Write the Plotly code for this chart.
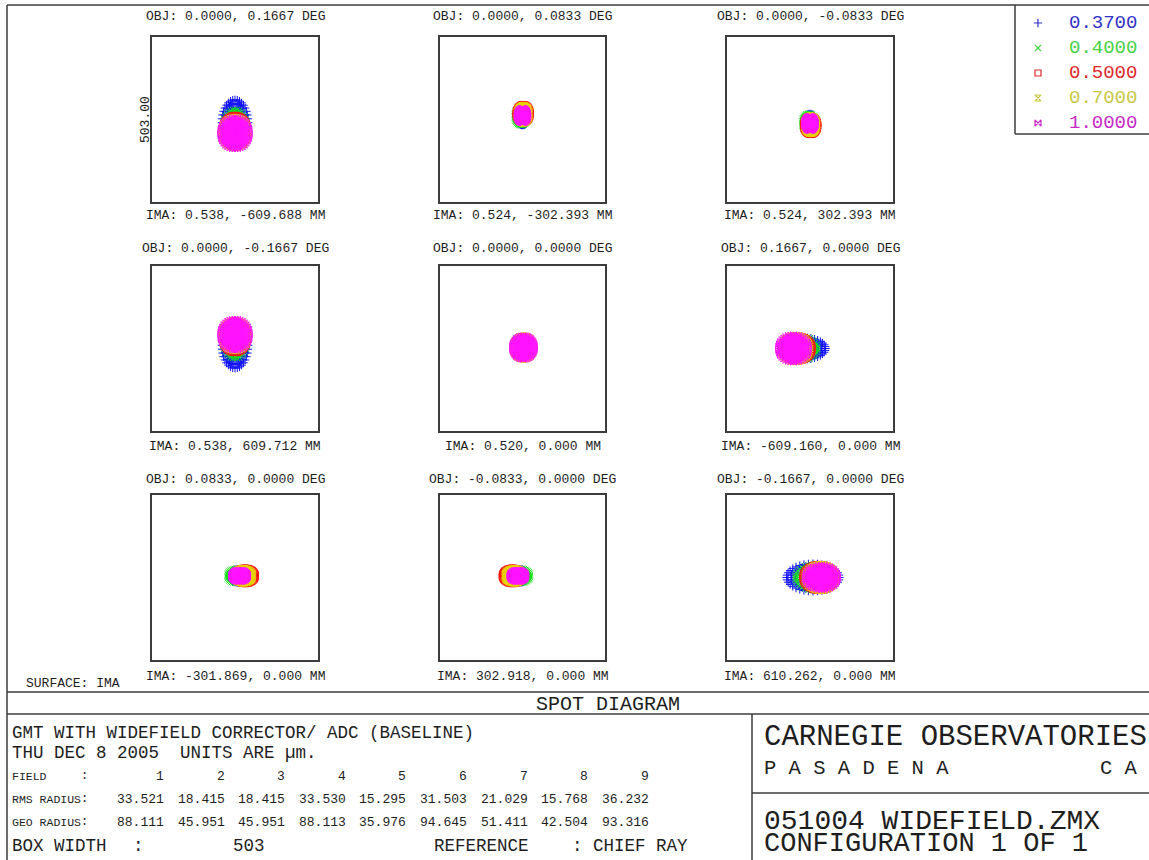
import numpy as np
import plotly.graph_objects as go

W, H = 1149, 860

# ---------------- data ----------------
wavelengths = ["0.3700", "0.4000", "0.5000", "0.7000", "1.0000"]
spot_colors = ["#1414ff", "#14e614", "#ff1414", "#e6d200", "#ff14ff"]
legend_colors = ["#3232c8", "#46d246", "#e02828", "#c8c846", "#c828c8"]
spot_symbols = ["cross-thin-open", "x-thin-open", "square-open", "hourglass-open", "bowtie-open"]

obj_labels = [
    "OBJ: 0.0000, 0.1667 DEG", "OBJ: 0.0000, 0.0833 DEG", "OBJ: 0.0000, -0.0833 DEG",
    "OBJ: 0.0000, -0.1667 DEG", "OBJ: 0.0000, 0.0000 DEG", "OBJ: 0.1667, 0.0000 DEG",
    "OBJ: 0.0833, 0.0000 DEG", "OBJ: -0.0833, 0.0000 DEG", "OBJ: -0.1667, 0.0000 DEG",
]
ima_labels = [
    "IMA: 0.538, -609.688 MM", "IMA: 0.524, -302.393 MM", "IMA: 0.524, 302.393 MM",
    "IMA: 0.538, 609.712 MM", "IMA: 0.520, 0.000 MM", "IMA: -609.160, 0.000 MM",
    "IMA: -301.869, 0.000 MM", "IMA: 302.918, 0.000 MM", "IMA: 610.262, 0.000 MM",
]
field_numbers = ["1", "2", "3", "4", "5", "6", "7", "8", "9"]
rms_radius = ["33.521", "18.415", "18.415", "33.530", "15.295", "31.503", "21.029", "15.768", "36.232"]
geo_radius = ["88.111", "45.951", "45.951", "88.113", "35.976", "94.645", "51.411", "42.504", "93.316"]
box_width = 503.0

# spot-centroid offsets and semi-extents (micrometres), per field, per wavelength
spot_cx = [
    [0, 0, 0, 0, 0],
    [0, -4, 2, 2, 0],
    [0, -4, 2, 2, 0],
    [0, 0, 0, 0, 0],
    [3, 3, 3, 3, 3],
    [-20, -25, -38, -45, -50],
    [8, 5, 30, 25, 14],
    [-8, -5, -30, -25, -14],
    [9, 15, 28, 32, 35],
]
spot_cy = [
    [-10, -25, -35, -40, -42],
    [5, 10, 18, 16, 12],
    [-5, -10, -18, -16, -12],
    [10, 25, 35, 40, 42],
    [3, 3, 3, 3, 3],
    [0, 0, 0, 0, 0],
    [5, 5, 5, 5, 5],
    [5, 5, 5, 5, 5],
    [0, 0, 0, 0, 0],
]
spot_rx = [
    [40, 38, 40, 42, 43],
    [18, 20, 22, 20, 16],
    [18, 20, 22, 20, 16],
    [40, 38, 40, 42, 43],
    [30, 30, 31, 32, 33],
    [67, 48, 45, 45, 45],
    [24, 28, 32, 30, 24],
    [24, 28, 32, 30, 24],
    [80, 60, 50, 48, 48],
]
spot_ry = [
    [70, 55, 48, 46, 48],
    [22, 28, 28, 27, 22],
    [22, 28, 28, 27, 22],
    [70, 55, 48, 46, 48],
    [33, 33, 34, 35, 36],
    [33, 36, 38, 40, 42],
    [20, 22, 24, 22, 18],
    [20, 22, 24, 22, 18],
    [42, 40, 40, 39, 38],
]

# hexapolar pupil sampling (ray grid), 6 rings
pupil_rings = 6
pup_x, pup_y = [0.0], [0.0]
for k in range(1, pupil_rings + 1):
    ang = 2 * np.pi * np.arange(6 * k) / (6 * k)
    pup_x.extend(list(k / pupil_rings * np.cos(ang)))
    pup_y.extend(list(k / pupil_rings * np.sin(ang)))
pup_x = np.array(pup_x)
pup_y = np.array(pup_y)

# ---------------- layout geometry (pixels) ----------------
col_px = [(152, 318), (440, 605), (727, 893)]
row_px = [(37, 202), (266, 431), (495, 660)]
obj_y = [17, 249, 479]
ima_y = [215, 446, 676]


def fx(p):
    return p / W


def fy(p):
    return 1 - p / H


FONT = "Liberation Mono, DejaVu Sans Mono, monospace"
INK = "#1e1e1e"
LINE = "#3c3c3c"

fig = go.Figure()
layout = dict(
    width=W, height=H, autosize=False,
    margin=dict(l=0, r=0, t=0, b=0),
    paper_bgcolor="white", plot_bgcolor="white",
    showlegend=False,
)
annotations = []
shapes = []
half = box_width / 2

for i in range(9):
    r, c = divmod(i, 3)
    n = i + 1
    xa = "xaxis" if n == 1 else f"xaxis{n}"
    ya = "yaxis" if n == 1 else f"yaxis{n}"
    xr = "x" if n == 1 else f"x{n}"
    yr = "y" if n == 1 else f"y{n}"
    x0, x1 = col_px[c]
    y0, y1 = row_px[r]
    axcommon = dict(range=[-half, half], showgrid=False, zeroline=False, showticklabels=False,
                    ticks="", showline=True, mirror=True, linecolor=LINE, linewidth=1.5,
                    fixedrange=True)
    layout[xa] = dict(domain=[fx(x0), fx(x1)], anchor=yr, **axcommon)
    layout[ya] = dict(domain=[fy(y1), fy(y0)], anchor=xr, **axcommon)
    for w in range(5):
        xs = spot_cx[i][w] + spot_rx[i][w] * pup_x
        ys = spot_cy[i][w] + spot_ry[i][w] * pup_y
        fig.add_trace(go.Scatter(
            x=xs, y=ys, mode="markers", xaxis=xr, yaxis=yr, hoverinfo="skip",
            marker=dict(symbol=spot_symbols[w], size=6, color=spot_colors[w],
                        line=dict(color=spot_colors[w], width=1)),
        ))
    cxp = (x0 + x1) / 2
    annotations.append(dict(text=obj_labels[i], x=fx(cxp), y=fy(obj_y[r]), xref="paper", yref="paper",
                            showarrow=False, xanchor="center", yanchor="middle",
                            font=dict(family=FONT, size=13, color=INK)))
    annotations.append(dict(text=ima_labels[i], x=fx(cxp), y=fy(ima_y[r]), xref="paper", yref="paper",
                            showarrow=False, xanchor="center", yanchor="middle",
                            font=dict(family=FONT, size=13, color=INK)))

# box width label on first box
annotations.append(dict(text=f"{box_width:.2f}", x=fx(145), y=fy(120), xref="paper", yref="paper",
                        showarrow=False, textangle=-90, xanchor="center", yanchor="middle",
                        font=dict(family=FONT, size=13, color=INK)))
annotations.append(dict(text="SURFACE: IMA", x=fx(24), y=fy(683), xref="paper", yref="paper",
                        showarrow=False, xanchor="left", yanchor="middle",
                        font=dict(family=FONT, size=13, color=INK)))

# legend (symbols on an overlay axis, texts as annotations)
layout["xaxis10"] = dict(domain=[fx(1030), fx(1046)], range=[-1, 1], visible=False, fixedrange=True, anchor="y10")
layout["yaxis10"] = dict(domain=[fy(135.5), fy(10.5)], range=[4.5, -0.5], visible=False, fixedrange=True, anchor="x10")
for w in range(5):
    fig.add_trace(go.Scatter(
        x=[0], y=[w], mode="markers", xaxis="x10", yaxis="y10", hoverinfo="skip",
        marker=dict(symbol=spot_symbols[w], size=6, color=legend_colors[w],
                    line=dict(color=legend_colors[w], width=1.2)),
    ))
    annotations.append(dict(text=wavelengths[w], x=fx(1067), y=fy(23 + 25 * w), xref="paper", yref="paper",
                            showarrow=False, xanchor="left", yanchor="middle",
                            font=dict(family=FONT, size=19, color=legend_colors[w])))

# frame lines
def hline(y, xa, xb):
    shapes.append(dict(type="line", xref="paper", yref="paper", x0=fx(xa), x1=fx(xb), y0=fy(y), y1=fy(y),
                       line=dict(color=LINE, width=1.5)))


def vline(x, ya, yb):
    shapes.append(dict(type="line", xref="paper", yref="paper", x0=fx(x), x1=fx(x), y0=fy(ya), y1=fy(yb),
                       line=dict(color=LINE, width=1.5)))


hline(5, 7, 1149)
vline(7, 5, 860)
vline(1015, 5, 134)
hline(134, 1015, 1149)
hline(692, 7, 1149)
hline(714, 7, 1149)
vline(752, 714, 860)
hline(793, 752, 1149)

# bottom block texts
def txt(s, x, y, size, anchor="left", family=FONT):
    annotations.append(dict(text=s, x=fx(x), y=fy(y), xref="paper", yref="paper", showarrow=False,
                            xanchor=anchor, yanchor="middle", font=dict(family=family, size=size, color=INK)))


txt("SPOT DIAGRAM", 608, 704, 20, "center")
txt("GMT WITH WIDEFIELD CORRECTOR/ ADC (BASELINE)", 10, 733, 17.5)
txt("THU DEC 8 2005  UNITS ARE µm.", 10, 753, 17.5)
txt("FIELD", 10, 776, 11.5)
txt("RMS RADIUS", 10, 799, 11.5)
txt("GEO RADIUS", 10, 822, 11.5)
for yy in (776, 799, 822):
    txt(":", 84, yy, 12, "center")
txt("BOX WIDTH", 10, 846, 17.5)
txt(":", 138, 846, 17.5, "center")
txt(f"{box_width:.0f}", 249, 846, 17.5, "center")
txt("REFERENCE", 432, 846, 17.5)
txt(": CHIEF RAY", 570, 846, 17.5)
col_right = [166 + 60.6 * k for k in range(9)]
for k in range(9):
    txt(field_numbers[k], col_right[k], 776, 13, "right")
    txt(rms_radius[k], col_right[k], 799, 13, "right")
    txt(geo_radius[k], col_right[k], 822, 13, "right")

txt("CARNEGIE OBSERVATORIES", 762, 737, 29)
txt("P A S A D E N A", 762, 768, 20.5)
txt("C A", 1098, 768, 20.5)
txt("051004 WIDEFIELD.ZMX", 762, 821, 28)
txt("CONFIGURATION 1 OF 1", 762, 844, 27)

layout["annotations"] = annotations
layout["shapes"] = shapes
fig.update_layout(**layout)
fig.write_html("out.html", config={"displayModeBar": False},
               post_script="document.body.style.margin='0';document.body.style.overflow='hidden';")
